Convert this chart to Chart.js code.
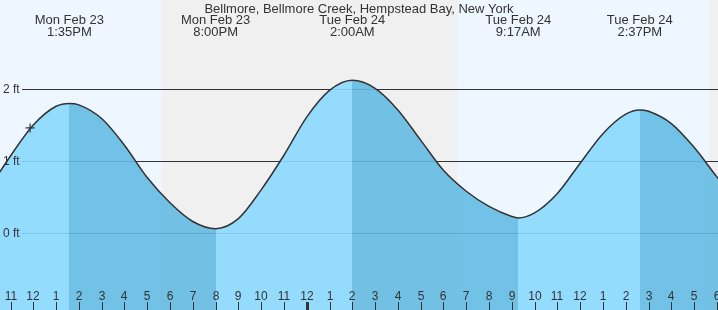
<!DOCTYPE html>
<html><head><meta charset="utf-8">
<script src="https://cdn.jsdelivr.net/npm/chart.js@4/dist/chart.umd.min.js"></script>
<style>html,body{margin:0;padding:0;background:#fff}#wrap{width:718px;height:310px;position:relative}</style>
</head><body><div id="wrap"><canvas id="c"></canvas></div>
<script>
// Hours are counted from 11 AM Mon Feb 23
const title = 'Bellmore, Bellmore Creek, Hempstead Bay, New York';
const hours   = [-1, 0, 1, 2, 2.583, 3, 4, 5, 6, 7, 8, 9, 10, 11, 12, 13, 14, 15, 16, 17, 18, 19, 20, 21, 22, 22.283, 23, 24, 25, 26, 27, 27.617, 28, 29, 30, 31, 32];
const heights = [0.59, 1.07, 1.50, 1.76, 1.80, 1.78, 1.59, 1.22, 0.77, 0.42, 0.16, 0.06, 0.20, 0.60, 1.08, 1.61, 1.98, 2.12, 2.01, 1.71, 1.29, 0.87, 0.58, 0.37, 0.23, 0.21, 0.28, 0.55, 0.97, 1.38, 1.65, 1.71, 1.69, 1.52, 1.19, 0.78, 0.40];
const extremeHours = [2.583, 9, 15, 22.283, 27.617];
const extremeKinds = ['H', 'L', 'H', 'L', 'H'];
const extremeDates = ['Mon Feb 23', 'Mon Feb 23', 'Tue Feb 24', 'Tue Feb 24', 'Tue Feb 24'];
const extremeTimes = ['1:35PM', '8:00PM', '2:00AM', '9:17AM', '2:37PM'];
const nightStart = [6.65, 30.65];
const nightEnd   = [19.6, 40];
const tickLabels = ['11','12','1','2','3','4','5','6','7','8','9','10','11','12','1','2','3','4','5','6','7','8','9','10','11','12','1','2','3','4','5','6'];
const midnightIndex = 13;
const yTickValues = [0, 1, 2];
const yTickLabels = ['0 ft', '1 ft', '2 ft'];
const nowHour = 0.86;
const nowHeight = 1.46;

const LIGHT = 'rgba(138,217,254,0.9)';
const DARK = 'rgba(100,187,227,0.9)';
const FONT = '"Liberation Sans", Arial, sans-serif';

function fillGradient(c) {
  const ch = c.chart, ca = ch.chartArea;
  if (!ca || !ch.scales.x) return LIGHT;
  const xs = ch.scales.x;
  const g = ch.ctx.createLinearGradient(ca.left, 0, ca.right, 0);
  let cur = LIGHT;
  g.addColorStop(0, cur);
  extremeHours.forEach((h, i) => {
    const f = Math.min(1, Math.max(0, (xs.getPixelForValue(h) - ca.left) / (ca.right - ca.left)));
    const next = extremeKinds[i] === 'H' ? DARK : LIGHT;
    g.addColorStop(f, cur);
    g.addColorStop(f, next);
    cur = next;
  });
  g.addColorStop(1, cur);
  return g;
}

const bgPlugin = {
  id: 'bg',
  beforeDatasetsDraw(chart) {
    const {ctx, chartArea: ca, scales: {x, y}} = chart;
    ctx.save();
    ctx.fillStyle = '#eef7ff';
    ctx.fillRect(ca.left, ca.top, ca.right - ca.left, ca.bottom - ca.top);
    ctx.fillStyle = '#f0f0f0';
    nightStart.forEach((s, i) => {
      const a = Math.max(ca.left, Math.round(x.getPixelForValue(s)));
      const b = Math.min(ca.right, Math.round(x.getPixelForValue(nightEnd[i])));
      if (b > a) ctx.fillRect(a, ca.top, b - a, ca.bottom - ca.top);
    });
    ctx.strokeStyle = '#333';
    ctx.lineWidth = 1;
    yTickValues.forEach(v => {
      const py = Math.round(y.getPixelForValue(v)) + 0.5;
      ctx.beginPath(); ctx.moveTo(22, py); ctx.lineTo(ca.right, py); ctx.stroke();
    });
    ctx.restore();
  }
};

const overlayPlugin = {
  id: 'overlay',
  afterDraw(chart) {
    const {ctx, chartArea: ca, scales: {x, y}} = chart;
    ctx.save();
    ctx.fillStyle = '#333';
    ctx.textAlign = 'center';
    ctx.textBaseline = 'alphabetic';
    ctx.font = '13px ' + FONT;
    ctx.fillText(title, (ca.left + ca.right) / 2, 13);
    extremeHours.forEach((h, i) => {
      const px = x.getPixelForValue(h);
      ctx.fillText(extremeDates[i], px, 24);
      ctx.fillText(extremeTimes[i], px, 36);
    });
    ctx.font = '12px ' + FONT;
    tickLabels.forEach((lab, i) => {
      const px = Math.round(x.getPixelForValue(i));
      ctx.fillText(lab, px, 299.5);
      if (i === midnightIndex) {
        ctx.fillRect(px - 1, 302, 3, 8);
      } else {
        ctx.fillRect(px, 302, 1, 8);
      }
    });
    ctx.textAlign = 'left';
    ctx.textBaseline = 'middle';
    yTickValues.forEach((v, i) => {
      ctx.fillText(yTickLabels[i], 3, y.getPixelForValue(v) + 1);
    });
    ctx.restore();
  }
};

new Chart(document.getElementById('c'), {
  type: 'line',
  data: {
    datasets: [
      {
        data: [{x: nowHour, y: nowHeight}],
        showLine: false, pointStyle: 'cross', pointRadius: 4.5,
        borderColor: '#333', backgroundColor: '#333', pointBorderWidth: 1.2, order: 0
      },
      {
        data: hours.map((h, i) => ({x: h, y: heights[i]})),
        borderColor: '#333', borderWidth: 1.5, pointRadius: 0,
        cubicInterpolationMode: 'monotone', fill: 'start',
        backgroundColor: fillGradient, order: 1
      }
    ]
  },
  options: {
    responsive: true, maintainAspectRatio: false, animation: false,
    layout: {padding: 0, autoPadding: false}, events: [],
    plugins: {legend: {display: false}, tooltip: {enabled: false}},
    scales: {
      x: {type: 'linear', display: false, min: -0.4608, max: 31.049},
      y: {type: 'linear', display: false, min: -1.069, max: 3.236}
    }
  },
  plugins: [bgPlugin, overlayPlugin]
});
</script></body></html>
